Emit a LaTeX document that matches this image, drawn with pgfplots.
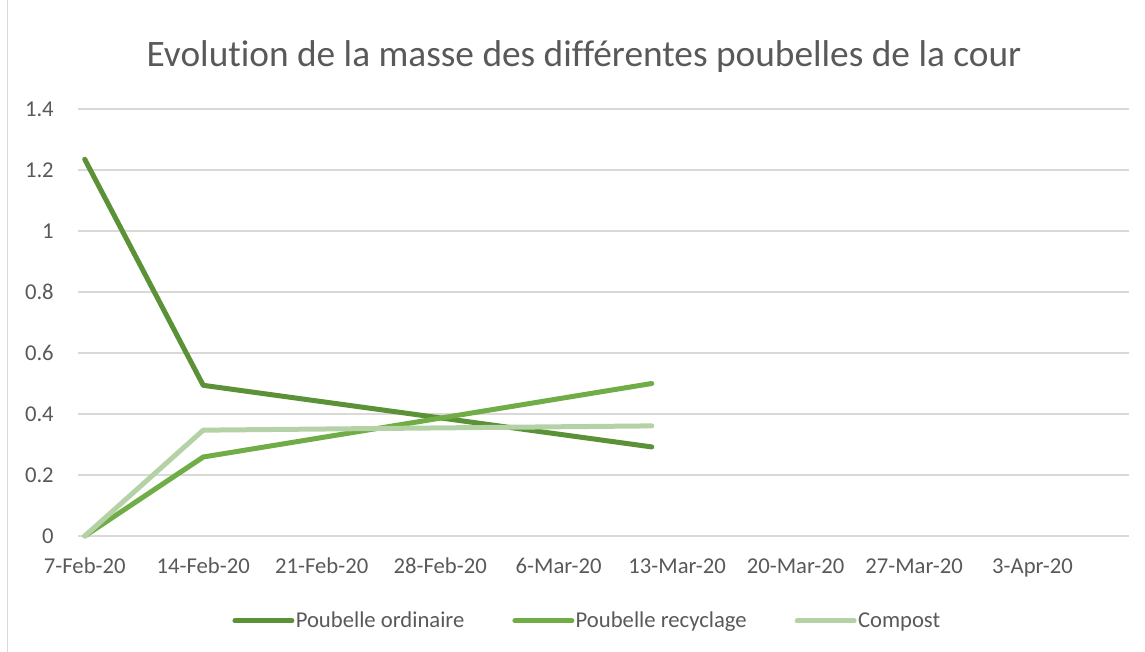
\documentclass[border=0pt]{standalone}
\usepackage{fontspec}
\setmainfont{Carlito}[Ligatures=NoCommon]
\usepackage{pgfplots}
\pgfplotsset{compat=1.18}
\definecolor{txt}{HTML}{595959}
\definecolor{gridc}{HTML}{D9D9D9}
\definecolor{ord}{HTML}{5B9137}
\definecolor{rec}{HTML}{70AD47}
\definecolor{comp}{HTML}{B5D2A6}
\begin{document}
\begin{tikzpicture}
\path[use as bounding box] (0,0) rectangle (858.75pt,489pt);
\draw[gridc, line width=0.8pt] (5.5pt,0) -- (5.5pt,489pt);
\node[anchor=base, text=txt, font=\fontsize{28}{32}\selectfont, inner sep=0pt] at (438pt,439pt) {Evolution de la masse des différentes poubelles de la cour};
\begin{axis}[
  at={(58.5pt,87pt)}, anchor=south west,
  scale only axis, width=788.25pt, height=320.25pt,
  xmin=-0.4, xmax=61.7, ymin=0, ymax=1.4,
  axis line style={draw=none},
  tick style={draw=none},
  ymajorgrids, grid style={gridc, line width=1pt},
  xtick={0,7,14,21,28,35,42,49,56},
  xticklabels={7-Feb-20,14-Feb-20,21-Feb-20,28-Feb-20,6-Mar-20,13-Mar-20,20-Mar-20,27-Mar-20,3-Apr-20},
  ytick={0,0.2,0.4,0.6,0.8,1,1.2,1.4},
  yticklabels={0,0.2,0.4,0.6,0.8,1,1.2,1.4},
  ticklabel style={text=txt, font=\fontsize{17}{20}\selectfont, inner sep=0pt},
  xticklabel style={anchor=base, yshift=-28.5pt},
  yticklabel style={anchor=east, xshift=-18pt},
  clip=false,
  legend columns=3,
  legend style={draw=none, fill=none, at={(0.4843,-0.199)}, anchor=center,
    font=\fontsize{17}{20}\selectfont, text=txt,
    nodes={inner sep=1pt},
    /tikz/every even column/.append style={column sep=35pt}},
  legend cell align=left,
  legend image code/.code={\draw[#1, line cap=round] (0pt,0pt) -- (42.75pt,0pt);},
]
\addplot[ord, line width=3.75pt, line cap=round, line join=round, mark=none] coordinates {(0,1.235) (7,0.494) (33.5,0.292)};
\addlegendentry{Poubelle ordinaire}
\addplot[rec, line width=3.75pt, line cap=round, line join=round, mark=none] coordinates {(0,0) (7,0.259) (33.5,0.500)};
\addlegendentry{Poubelle recyclage}
\addplot[comp, line width=3.75pt, line cap=round, line join=round, mark=none] coordinates {(0,0) (7,0.347) (33.5,0.361)};
\addlegendentry{Compost}
\end{axis}
\end{tikzpicture}
\end{document}
